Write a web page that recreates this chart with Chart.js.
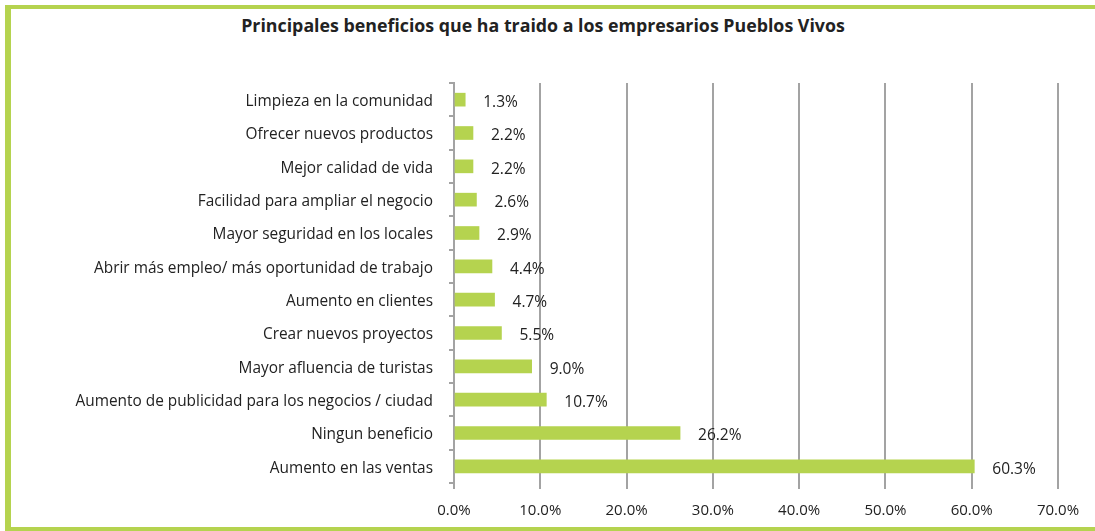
<!DOCTYPE html>
<html>
<head>
<meta charset="utf-8">
<script src="https://cdn.jsdelivr.net/npm/chart.js@4"></script>
<style>
  body { margin: 0; background: #fff; }
  #wrap { position: relative; width: 1095px; height: 531px; overflow: hidden; }
  #frame { position: absolute; left: 5px; top: 5px; width: 1100px; height: 518px;
           border-top: 4px solid #b5d34f; border-left: 6px solid #b5d34f; border-bottom: 4px solid #b5d34f; }
  #title { position: absolute; left: 0; width: 1086px; top: 13px; text-align: center;
           font: bold 17.8px "Open Sans", sans-serif; color: #222; }
  canvas { position: absolute; left: 0; top: 0; }
</style>
</head>
<body>
<div id="wrap">
  <div id="frame"></div>
  <div id="title">Principales beneficios que ha traido a los empresarios Pueblos Vivos</div>
  <canvas id="chart" width="1095" height="531"></canvas>
</div>
<script>
const categories = [
  'Limpieza en la comunidad',
  'Ofrecer nuevos productos',
  'Mejor calidad de vida',
  'Facilidad para ampliar el negocio',
  'Mayor seguridad en los locales',
  'Abrir más empleo/ más oportunidad de trabajo',
  'Aumento en clientes',
  'Crear nuevos proyectos',
  'Mayor afluencia de turistas',
  'Aumento de publicidad para los negocios / ciudad',
  'Ningun beneficio',
  'Aumento en las ventas'
];
const values = [1.3, 2.2, 2.2, 2.6, 2.9, 4.4, 4.7, 5.5, 9.0, 10.7, 26.2, 60.3];
const xTicks = [0, 10, 20, 30, 40, 50, 60, 70];

const gridGray = '#a3a3a3';
const textColor = '#222';
const fontFamily = '"Open Sans", sans-serif';

// etiquetas de valor al final de cada barra
const valueLabels = {
  id: 'valueLabels',
  afterDatasetsDraw(chart) {
    const ctx = chart.ctx;
    const meta = chart.getDatasetMeta(0);
    ctx.save();
    ctx.font = '15.5px ' + fontFamily;
    ctx.fillStyle = textColor;
    ctx.textAlign = 'left';
    ctx.textBaseline = 'middle';
    meta.data.forEach((bar, i) => {
      ctx.fillText(values[i].toFixed(1) + '%', bar.x + 18, bar.y + 3);
    });
    ctx.restore();
  }
};

new Chart(document.getElementById('chart'), {
  type: 'bar',
  data: {
    labels: categories,
    datasets: [{
      data: values,
      backgroundColor: '#b5d34f',
      barThickness: 13
    }]
  },
  plugins: [valueLabels],
  options: {
    indexAxis: 'y',
    responsive: false,
    animation: false,
    layout: { padding: { top: 83, right: 37, left: 0, bottom: 0 } },
    plugins: { legend: { display: false }, tooltip: { enabled: false } },
    scales: {
      x: {
        min: 0, max: 70,
        afterBuildTicks: s => { s.ticks = xTicks.map(v => ({ value: v })); },
        afterFit: s => { s.height = 48; },
        grid: { color: gridGray, lineWidth: 2, tickLength: 6 },
        border: { display: false },
        ticks: {
          color: textColor, padding: 13,
          font: { family: fontFamily, size: 15 },
          callback: v => v.toFixed(1) + '%'
        }
      },
      y: {
        afterFit: s => { s.width = 454; },
        grid: { offset: true, drawOnChartArea: false, color: gridGray, lineWidth: 2, tickLength: 5 },
        border: { color: gridGray, width: 2 },
        ticks: {
          color: textColor, padding: 16, labelOffset: 2,
          font: { family: fontFamily, size: 15.4 }
        }
      }
    }
  }
});
</script>
</body>
</html>
